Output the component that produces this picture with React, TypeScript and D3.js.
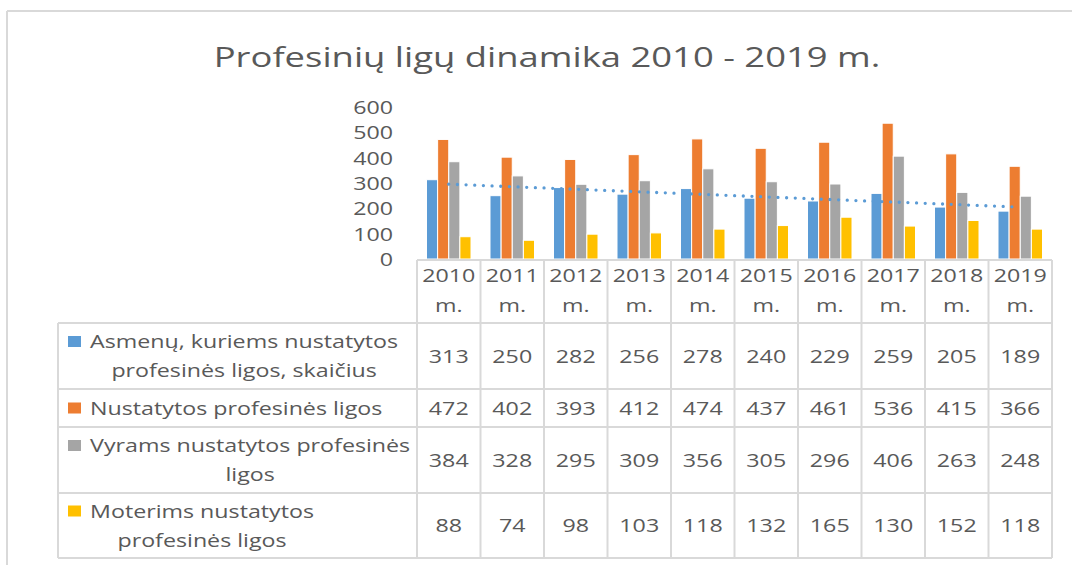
import React from "react";
import * as d3 from "d3";

const categories = ["2010", "2011", "2012", "2013", "2014", "2015", "2016", "2017", "2018", "2019"];
const categorySuffix = "m.";
const seriesNames = [
  ["Asmenų, kuriems nustatytos", "profesinės ligos, skaičius"],
  ["Nustatytos profesinės ligos"],
  ["Vyrams nustatytos profesinės", "ligos"],
  ["Moterims nustatytos", "profesinės ligos"],
];
const asmenu = [313, 250, 282, 256, 278, 240, 229, 259, 205, 189];
const nustatytos = [472, 402, 393, 412, 474, 437, 461, 536, 415, 366];
const vyrams = [384, 328, 295, 309, 356, 305, 296, 406, 263, 248];
const moterims = [88, 74, 98, 103, 118, 132, 165, 130, 152, 118];
const yTicks = [0, 100, 200, 300, 400, 500, 600];
const titleText = "Profesinių ligų dinamika 2010 - 2019 m.";

const series = [asmenu, nustatytos, vyrams, moterims];
const colors = ["#5B9BD5", "#ED7D31", "#A5A5A5", "#FFC000"];

const FONT = "'Open Sans', sans-serif";
const TXT = "#595959";
const GRID = "#D9D9D9";
const SX = 1.29;

function T({ x, y, size, anchor, children, sx = SX, fill = TXT }: any) {
  return (
    <text
      transform={`translate(${x},${y}) scale(${sx},1)`}
      fontFamily={FONT}
      fontSize={size}
      fill={fill}
      textAnchor={anchor}
      dominantBaseline="central"
    >
      {children}
    </text>
  );
}

let ctx: CanvasRenderingContext2D | null = null;
function measure(s: string, size: number) {
  if (!ctx) ctx = document.createElement("canvas").getContext("2d");
  if (!ctx) return s.length * size * 0.5;
  ctx.font = `${size}px 'Open Sans'`;
  return ctx.measureText(s).width;
}

export default function App() {
  const W = 1072, H = 565;
  const tableLeft = 58, legendRight = 417, tableRight = 1052;
  const axisY = 259;
  const x = d3.scaleBand<string>().domain(categories).range([legendRight, tableRight]);
  const y = d3.scaleLinear().domain([0, 600]).range([axisY, 107]);
  const bw = x.bandwidth();
  const x1 = d3.scaleBand<number>().domain([0, 1, 2, 3]).range([9.5, bw - 9.5]);

  // linear trendline for first series
  const xs = asmenu.map((_, i) => i + 1);
  const mx = d3.mean(xs)!, my = d3.mean(asmenu)!;
  const slope = d3.sum(xs.map((xi, i) => (xi - mx) * (asmenu[i] - my))) / d3.sum(xs.map((xi) => (xi - mx) ** 2));
  const inter = my - slope * mx;
  const trendPts: [number, number][] = categories.map((c, i) => [x(c)! + bw / 2, y(inter + slope * (i + 1))]);
  const trendPath = d3.line()(trendPts)!;

  const headerBottom = 323;
  const rowLines = [323, 389, 427, 493, 558];
  const rowCenters = rowLines.slice(0, 4).map((r, i) => (r + rowLines[i + 1]) / 2);
  const fs = 18;
  const lineGap = 29;

  return (
    <svg width={W} height={H} style={{ position: "absolute", left: 0, top: 0, background: "#fff" }}>
      <rect x={0} y={0} width={W} height={H} fill="#fff" />
      {/* frame */}
      <line x1={7} y1={11} x2={W} y2={11} stroke={GRID} strokeWidth={2} />
      <line x1={7} y1={11} x2={7} y2={H} stroke={GRID} strokeWidth={2} />

      <T x={547} y={56} size={28} anchor="middle" sx={1.3}>{titleText}</T>

      {/* y axis labels */}
      {yTicks.map((t) => (
        <T key={t} x={393} y={y(t)} size={fs} anchor="end">{t}</T>
      ))}

      {/* bars */}
      {categories.map((c, ci) => (
        <g key={c} transform={`translate(${x(c)},0)`}>
          {series.map((s, si) => (
            <rect
              key={si}
              x={x1(si)}
              y={y(s[ci])}
              width={x1.bandwidth()}
              height={axisY - y(s[ci])}
              fill={colors[si]}
              stroke="#fff"
              strokeWidth={1}
            />
          ))}
        </g>
      ))}

      {/* trendline */}
      <path d={trendPath} fill="none" stroke="#5B9BD5" strokeWidth={3.3} strokeDasharray="0 8.67" strokeLinecap="round" />

      {/* table grid */}
      <line x1={legendRight} y1={axisY + 1} x2={tableRight} y2={axisY + 1} stroke={GRID} strokeWidth={2} />
      {rowLines.map((r) => (
        <line key={r} x1={tableLeft} y1={r} x2={tableRight} y2={r} stroke={GRID} strokeWidth={2} />
      ))}
      {categories.map((c) => (
        <line key={c} x1={x(c)} y1={axisY + 1} x2={x(c)} y2={558} stroke={GRID} strokeWidth={2} />
      ))}
      <line x1={tableRight} y1={axisY + 1} x2={tableRight} y2={558} stroke={GRID} strokeWidth={2} />
      <line x1={tableLeft} y1={headerBottom} x2={tableLeft} y2={558} stroke={GRID} strokeWidth={2} />

      {/* header labels */}
      {categories.map((c) => (
        <g key={c}>
          <T x={x(c)! + bw / 2} y={275} size={fs} anchor="middle">{c}</T>
          <T x={x(c)! + bw / 2} y={305} size={fs} anchor="middle">{categorySuffix}</T>
        </g>
      ))}

      {/* legend cells */}
      {seriesNames.map((lines, si) => {
        const maxW = Math.max(...lines.map((l) => measure(l, fs))) * SX;
        const cx = 90 + maxW / 2;
        const top = rowCenters[si] - ((lines.length - 1) * lineGap) / 2;
        return (
          <g key={si}>
            <rect x={68} y={top - 5.5} width={13} height={11} fill={colors[si]} />
            {lines.map((l, li) => (
              <T key={li} x={cx} y={top + li * lineGap} size={fs} anchor="middle">{l}</T>
            ))}
          </g>
        );
      })}

      {/* values */}
      {series.map((s, si) =>
        categories.map((c, ci) => (
          <T key={si + "-" + c} x={x(c)! + bw / 2} y={rowCenters[si]} size={fs} anchor="middle">{s[ci]}</T>
        ))
      )}
    </svg>
  );
}
